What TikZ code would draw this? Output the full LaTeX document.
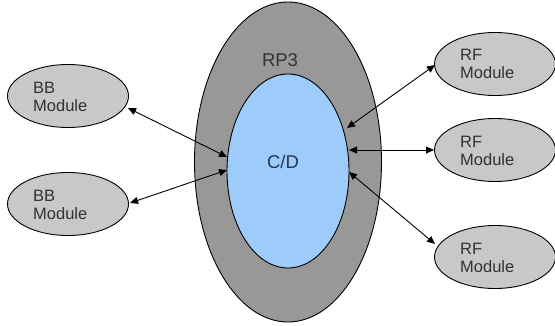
\documentclass[tikz,border=0pt]{standalone}
\usepackage{fontspec}
\setmainfont{Liberation Sans}
\usetikzlibrary{arrows.meta,shapes.geometric}
\definecolor{outerg}{RGB}{152,152,152}
\definecolor{innerb}{RGB}{158,204,250}
\definecolor{modg}{RGB}{200,200,200}
\definecolor{txtg}{RGB}{50,50,50}
\definecolor{txtb}{RGB}{35,55,85}
\begin{document}
\begin{tikzpicture}[x=1pt,y=-1pt,
  module/.style={ellipse, draw=black, line width=0.9pt, fill=modg, minimum width=121pt, minimum height=63pt, inner sep=0pt},
  modtext/.style={font=\fontsize{16.5}{18}\selectfont, text=txtg, align=left, inner sep=0pt},
  link/.style={{Triangle[length=8pt,width=7pt]}-{Triangle[length=8pt,width=7pt]}, line width=0.9pt}]
\useasboundingbox (0,0) rectangle (555,326);
\node[ellipse, draw=black, line width=0.9pt, fill=outerg, minimum width=187pt, minimum height=320pt, inner sep=0pt] (rp3) at (288,162) {};
\node[ellipse, draw=black, line width=0.9pt, fill=innerb, minimum width=122pt, minimum height=194pt, inner sep=0pt] (cd) at (288,171) {};
\node[font=\fontsize{18.5}{20}\selectfont, text=txtg] (rp3lbl) at (280,60) {RP3};
\node[font=\fontsize{18.5}{20}\selectfont, text=txtb] (cdlbl) at (283,162) {C/D};
\node[module] (bb1) at (68,96) {};
\node[module] (bb2) at (68,204) {};
\node[module] (rf1) at (495,64) {};
\node[module] (rf2) at (495,150) {};
\node[module] (rf3) at (495,257) {};
\node[modtext, anchor=west] (bb1t) at (33,97) {BB\\Module};
\node[modtext, anchor=west] (bb2t) at (33,205) {BB\\Module};
\node[modtext, anchor=west] (rf1t) at (460,64) {RF\\Module};
\node[modtext, anchor=west] (rf2t) at (460,151) {RF\\Module};
\node[modtext, anchor=west] (rf3t) at (460,258) {RF\\Module};
\coordinate (b1a) at (128,108);
\coordinate (b1b) at (227,157);
\coordinate (b2a) at (130,203);
\coordinate (b2b) at (227,170);
\coordinate (r1a) at (435,65);
\coordinate (r1b) at (347,128);
\coordinate (r2a) at (434,150);
\coordinate (r2b) at (349,150);
\coordinate (r3a) at (435,244);
\coordinate (r3b) at (349,172);
\draw[link] (b1a) -- (b1b);
\draw[link] (b2a) -- (b2b);
\draw[link] (r1a) -- (r1b);
\draw[link] (r2a) -- (r2b);
\draw[link] (r3a) -- (r3b);
\end{tikzpicture}
\end{document}
